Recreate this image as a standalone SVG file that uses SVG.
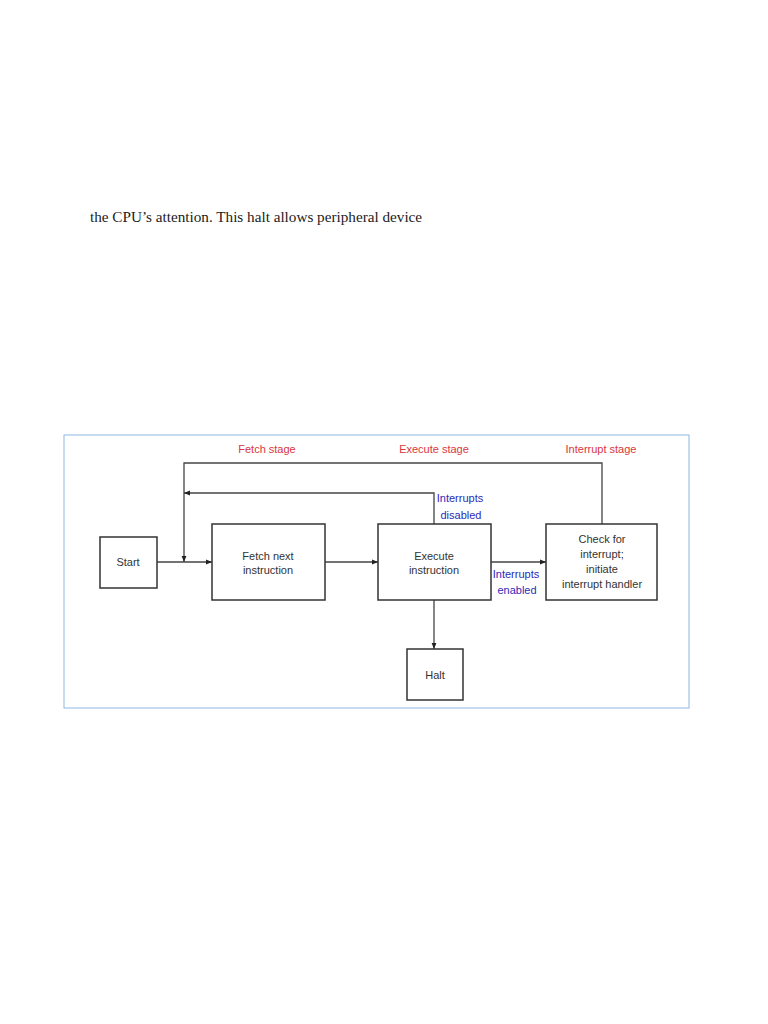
<svg xmlns="http://www.w3.org/2000/svg" width="768" height="1024" viewBox="0 0 768 1024">
<style>
.box{fill:#fff;stroke:#333;stroke-width:1.5}
.ln{fill:none;stroke:#444;stroke-width:1.3}
.t{font-family:"Liberation Sans",Arial,sans-serif;font-size:11px;fill:#333;text-anchor:middle}
.red{font-family:"Liberation Sans",Arial,sans-serif;font-size:11px;fill:#d9363e;text-anchor:middle}
.blue{font-family:"Liberation Sans",Arial,sans-serif;font-size:11px;fill:#2b2bb8;text-anchor:middle}
</style>
<defs>
<marker id="ah" viewBox="0 0 10 10" refX="10" refY="5" markerWidth="6" markerHeight="6" orient="auto-start-reverse" markerUnits="userSpaceOnUse">
<path d="M0,1 L10,5 L0,9 z" fill="#222"/>
</marker>
</defs>
<rect width="768" height="1024" fill="#fff"/>
<text x="90" y="222" font-family="Liberation Serif,'Times New Roman',serif" font-size="15.2" fill="#222">the CPU’s attention. This halt allows peripheral device</text>
<rect x="64" y="435" width="625" height="273" fill="none" stroke="#8db6e2" stroke-width="1"/>
<text class="red" x="267" y="453">Fetch stage</text>
<text class="red" x="434" y="453">Execute stage</text>
<text class="red" x="601" y="453">Interrupt stage</text>
<g id="connectors">
<path class="ln" d="M602,524 V463 H184 V562" marker-end="url(#ah)"/>
<path class="ln" d="M434,524 V493 H184" marker-end="url(#ah)"/>
<path class="ln" d="M157,562 H212" marker-end="url(#ah)" stroke-width="2"/>
<path class="ln" d="M325,562 H378" marker-end="url(#ah)" stroke-width="2"/>
<path class="ln" d="M491,562 H546" marker-end="url(#ah)" stroke-width="2"/>
<path class="ln" d="M434,600 V649" marker-end="url(#ah)"/>
<text class="blue" x="460" y="502">Interrupts</text>
<text class="blue" x="461" y="519">disabled</text>
<text class="blue" x="516" y="578">Interrupts</text>
<text class="blue" x="517" y="594">enabled</text>
</g>
<g id="start"><rect class="box" x="100" y="537" width="57" height="51"/><text class="t" x="128" y="566">Start</text></g>
<g id="fetch"><rect class="box" x="212" y="524" width="113" height="76"/><text class="t" x="268" y="560">Fetch next</text><text class="t" x="268" y="574">instruction</text></g>
<g id="execute"><rect class="box" x="378" y="524" width="113" height="76"/><text class="t" x="434" y="560">Execute</text><text class="t" x="434" y="574">instruction</text></g>
<g id="check"><rect class="box" x="546" y="524" width="111" height="76"/><text class="t" x="602" y="543">Check for</text><text class="t" x="602" y="558">interrupt;</text><text class="t" x="602" y="573">initiate</text><text class="t" x="602" y="588">interrupt handler</text></g>
<g id="halt"><rect class="box" x="407" y="649" width="56" height="51"/><text class="t" x="435" y="679">Halt</text></g>
</svg>
